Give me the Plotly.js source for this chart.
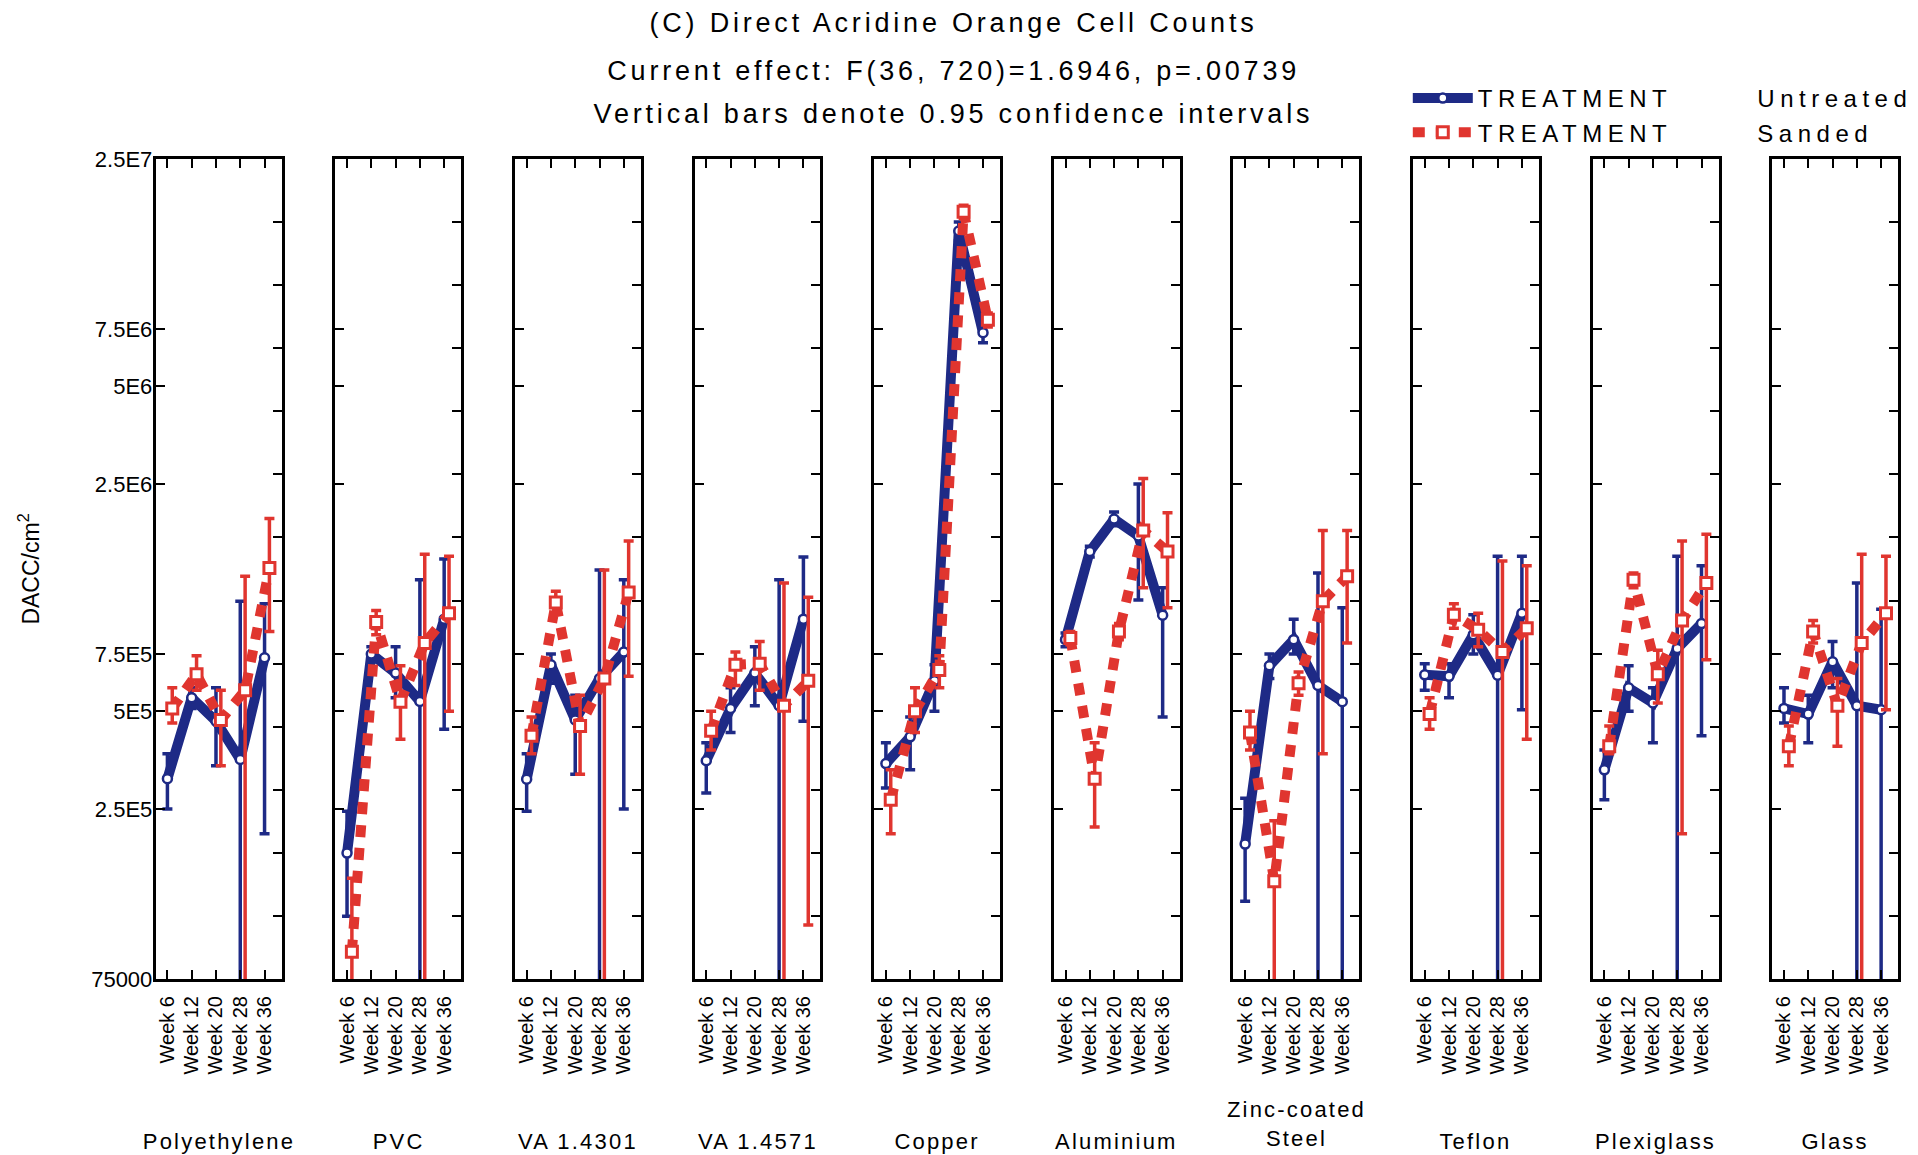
<!DOCTYPE html>
<html>
<head>
<meta charset="utf-8">
<script src="https://cdn.plot.ly/plotly-3.0.1.min.js"></script>
<style>
html, body { margin: 0; padding: 0; background: #ffffff; }
#chart { width: 1918px; height: 1155px; }
.annotation text { letter-spacing: 2.2px; }
.gtitle, .annotation[data-index="0"] text, .annotation[data-index="1"] text { letter-spacing: 3.8px; }
.legendtext { letter-spacing: 5.5px; }
</style>
</head>
<body>
<div id="chart"></div>
<script>
// ---------- DATA ----------
const materials = ['Polyethylene', 'PVC', 'VA 1.4301', 'VA 1.4571', 'Copper', 'Aluminium',
                   'Zinc-coated<br>Steel', 'Teflon', 'Plexiglass', 'Glass'];
const weeks = ['Week 6', 'Week 12', 'Week 20', 'Week 28', 'Week 36'];
const treatments = ['Untreated', 'Sanded'];
const yTickValues = [75000, 250000, 500000, 750000, 2500000, 5000000, 7500000, 25000000];
const yTickLabels = ['75000', '2.5E5', '5E5', '7.5E5', '2.5E6', '5E6', '7.5E6', '2.5E7'];

// TREATMENT: Untreated — means and 0.95 confidence limits (0 = limit below the axis)
const untreatedMean = [
  [3.1e5, 5.5e5, 4.66e5, 3.55e5, 7.3e5],
  [1.83e5, 7.5e5, 6.55e5, 5.36e5, 9.6e5],
  [3.09e5, 6.95e5, 4.7e5, 6.3e5, 7.6e5],
  [3.52e5, 5.1e5, 6.55e5, 5.2e5, 9.6e5],
  [3.45e5, 4.17e5, 6.2e5, 1.5e7, 7.3e6],
  [8.3e5, 1.55e6, 1.95e6, 1.73e6, 9.87e5],
  [1.95e5, 6.9e5, 8.3e5, 6.0e5, 5.35e5],
  [6.47e5, 6.4e5, 8.6e5, 6.45e5, 1.0e6],
  [3.3e5, 5.9e5, 5.3e5, 7.8e5, 9.3e5],
  [5.1e5, 4.9e5, 7.1e5, 5.2e5, 5.05e5]
];
const untreatedUpper = [
  [3.7e5, 5.9e5, 5.9e5, 1.09e6, 1.07e6],
  [2.46e5, 7.9e5, 7.9e5, 1.27e6, 1.47e6],
  [3.7e5, 7.5e5, 5.6e5, 1.36e6, 1.27e6],
  [4.0e5, 5.9e5, 7.9e5, 1.27e6, 1.49e6],
  [4.0e5, 4.8e5, 6.95e5, 1.6e7, 7.8e6],
  [8.7e5, 1.61e6, 2.05e6, 2.5e6, 1.2e6],
  [2.7e5, 7.5e5, 9.6e5, 1.33e6, 1.04e6],
  [7.0e5, 7.0e5, 9.9e5, 1.5e6, 1.5e6],
  [3.8e5, 6.9e5, 5.9e5, 1.5e6, 1.4e6],
  [5.9e5, 5.6e5, 8.2e5, 1.24e6, 1.03e6]
];
const untreatedLower = [
  [2.5e5, 5.1e5, 3.4e5, 0, 2.1e5],
  [1.17e5, 7.1e5, 5.5e5, 0, 4.4e5],
  [2.46e5, 6.1e5, 3.2e5, 0, 2.5e5],
  [2.8e5, 4.3e5, 5.2e5, 0, 4.66e5],
  [2.9e5, 3.3e5, 5.0e5, 1.4e7, 6.8e6],
  [7.9e5, 1.49e6, 1.86e6, 1.1e6, 4.8e5],
  [1.3e5, 6.3e5, 7.5e5, 0, 0],
  [5.8e5, 5.5e5, 7.5e5, 0, 5.05e5],
  [2.67e5, 5.0e5, 4.0e5, 0, 4.2e5],
  [4.6e5, 4.0e5, 5.9e5, 0, 0]
];

// TREATMENT: Sanded
const sandedMean = [
  [5.1e5, 6.5e5, 4.7e5, 5.8e5, 1.38e6],
  [9.1e4, 9.4e5, 5.35e5, 8.1e5, 1.0e6],
  [4.2e5, 1.08e6, 4.5e5, 6.3e5, 1.16e6],
  [4.35e5, 6.95e5, 7.0e5, 5.2e5, 6.2e5],
  [2.67e5, 5.0e5, 6.7e5, 1.72e7, 8.0e6],
  [8.4e5, 3.1e5, 8.8e5, 1.8e6, 1.55e6],
  [4.3e5, 1.5e5, 6.1e5, 1.09e6, 1.3e6],
  [4.9e5, 9.9e5, 8.9e5, 7.6e5, 9.0e5],
  [3.9e5, 1.27e6, 6.5e5, 9.5e5, 1.24e6],
  [3.9e5, 8.8e5, 5.2e5, 8.1e5, 1.0e6]
];
const sandedUpper = [
  [5.9e5, 7.4e5, 5.8e5, 1.30e6, 1.96e6],
  [1.53e5, 1.02e6, 6.9e5, 1.52e6, 1.5e6],
  [4.8e5, 1.17e6, 5.6e5, 1.36e6, 1.67e6],
  [5.0e5, 7.6e5, 8.2e5, 1.24e6, 1.12e6],
  [3.3e5, 5.9e5, 7.4e5, 1.8e7, 8.4e6],
  [8.8e5, 4.0e5, 9.3e5, 2.6e6, 2.04e6],
  [5.0e5, 2.3e5, 6.6e5, 1.8e6, 1.8e6],
  [5.5e5, 1.07e6, 1.0e6, 1.45e6, 1.4e6],
  [4.5e5, 1.33e6, 7.7e5, 1.67e6, 1.75e6],
  [4.5e5, 9.5e5, 6.3e5, 1.52e6, 1.5e6]
];
const sandedLower = [
  [4.6e5, 5.8e5, 3.4e5, 0, 8.8e5],
  [0, 8.6e5, 4.1e5, 0, 5.0e5],
  [3.7e5, 1.0e6, 3.2e5, 0, 6.4e5],
  [3.8e5, 6.0e5, 5.8e5, 0, 1.1e5],
  [2.1e5, 4.3e5, 5.9e5, 1.64e7, 7.6e6],
  [8.0e5, 2.2e5, 8.3e5, 1.2e6, 1.04e6],
  [3.8e5, 0, 5.6e5, 3.7e5, 8.1e5],
  [4.4e5, 9.0e5, 7.9e5, 0, 4.1e5],
  [3.7e5, 1.2e6, 5.3e5, 2.1e5, 7.2e5],
  [3.4e5, 8.1e5, 3.9e5, 0, 5.05e5]
];

// ---------- STYLE / LAYOUT ----------
const W = 1918, H = 1155;
const FONT = 'Liberation Sans, Arial, Helvetica, sans-serif';
const BLUE = '#1e2a86';
const RED = '#e0352f';
const panelLeft0 = 156, panelStep = 179.9, panelWidth = 126;
const plotTop = 159, plotBottom = 979;
const sandedShift = 0.2;
const legendGap = '\u00a0'.repeat(7);

const weekIdx = weeks.map((w, i) => i);
const traces = [];
const layout = {
  width: W, height: H,
  margin: {l: 0, r: 0, t: 0, b: 0},
  paper_bgcolor: '#ffffff',
  plot_bgcolor: '#ffffff',
  font: {family: FONT, color: '#000000'},
  showlegend: true,
  title: {
    text: '(C) Direct Acridine Orange Cell Counts',
    x: 955 / W, xanchor: 'center', xref: 'paper',
    y: 1 - 23 / H, yanchor: 'middle', yref: 'container',
    font: {family: FONT, size: 27, color: '#000000'}
  },
  legend: {
    x: 1410 / W, xanchor: 'left', y: 1 - 76 / H, yanchor: 'top',
    font: {family: FONT, size: 24, color: '#000000'},
    bgcolor: 'rgba(0,0,0,0)', borderwidth: 0,
    itemwidth: 60, tracegroupgap: 0, itemclick: false
  },
  annotations: [
    {text: 'Current effect: F(36, 720)=1.6946, p=.00739', xref: 'paper', yref: 'paper',
     x: 955 / W, y: 1 - 71 / H, xanchor: 'center', yanchor: 'middle', showarrow: false,
     font: {family: FONT, size: 27, color: '#000000'}},
    {text: 'Vertical bars denote 0.95 confidence intervals', xref: 'paper', yref: 'paper',
     x: 955 / W, y: 1 - 114 / H, xanchor: 'center', yanchor: 'middle', showarrow: false,
     font: {family: FONT, size: 27, color: '#000000'}}
  ]
};

materials.forEach((mat, k) => {
  const s = k === 0 ? '' : String(k + 1);
  const sOver = String(k + 11);
  const left = panelLeft0 + panelStep * k;
  const right = left + panelWidth;

  const uPlus = untreatedUpper[k].map((u, i) => u - untreatedMean[k][i]);
  const uMinus = untreatedLower[k].map((l, i) => untreatedMean[k][i] - l);
  const sPlus = sandedUpper[k].map((u, i) => u - sandedMean[k][i]);
  const sMinus = sandedLower[k].map((l, i) => sandedMean[k][i] - l);

  traces.push({
    type: 'scatter', mode: 'lines+markers',
    x: weekIdx, y: untreatedMean[k],
    xaxis: 'x' + s, yaxis: 'y' + s,
    name: 'TREATMENT' + legendGap + treatments[0], legendgroup: 'u', showlegend: k === 0,
    line: {color: BLUE, width: 10},
    marker: {symbol: 'circle', size: 9, color: '#ffffff', line: {color: BLUE, width: 2.5}},
    error_y: {type: 'data', symmetric: false, array: uPlus, arrayminus: uMinus,
              color: BLUE, thickness: 3.5, width: 5},
    hoverinfo: 'y'
  });
  traces.push({
    type: 'scatter', mode: 'lines+markers',
    x: weekIdx.map(v => v + sandedShift), y: sandedMean[k],
    xaxis: 'x' + s, yaxis: 'y' + s,
    name: 'TREATMENT' + legendGap + treatments[1], legendgroup: 's', showlegend: k === 0,
    line: {color: RED, width: 10, dash: '12px,11px'},
    marker: {symbol: 'square', size: 11, color: '#ffffff', line: {color: RED, width: 3}},
    error_y: {type: 'data', symmetric: false, array: sPlus, arrayminus: sMinus,
              color: RED, thickness: 3.5, width: 5},
    hoverinfo: 'y'
  });
  // empty trace that carries the right-hand tick axis of the panel
  traces.push({
    type: 'scatter', mode: 'markers', x: [], y: [],
    xaxis: 'x' + s, yaxis: 'y' + sOver, showlegend: false, hoverinfo: 'skip'
  });

  layout['xaxis' + s] = {
    domain: [left / W, right / W], anchor: 'y' + s,
    range: [-0.48, 4.7], fixedrange: true,
    tickmode: 'array', tickvals: weekIdx, ticktext: weeks, tickangle: -90,
    ticks: 'inside', ticklen: 9, tickwidth: 2, tickcolor: '#000000',
    ticklabelstandoff: 6,
    tickfont: {family: FONT, size: 20, color: '#000000'},
    showline: true, linecolor: '#000000', linewidth: 3, mirror: 'ticks',
    showgrid: false, zeroline: false
  };
  layout['yaxis' + s] = {
    domain: [1 - plotBottom / H, 1 - plotTop / H], anchor: 'x' + s,
    type: 'log', range: [Math.log10(75000), Math.log10(25000000)], fixedrange: true,
    tickmode: 'array', tickvals: yTickValues, ticktext: yTickLabels,
    showticklabels: k === 0, ticklabelstandoff: -4,
    ticks: 'inside', ticklen: 9, tickwidth: 2, tickcolor: '#000000',
    tickfont: {family: FONT, size: 22, color: '#000000'},
    showline: true, linecolor: '#000000', linewidth: 3, mirror: true,
    showgrid: false, zeroline: false
  };
  if (k === 0) {
    layout['yaxis' + s].title = {text: 'DACC/cm<sup>2</sup>', standoff: 46,
                                 font: {family: FONT, size: 23, color: '#000000'}};
  }
  layout['yaxis' + sOver] = {
    overlaying: 'y' + s, anchor: 'x' + s, side: 'right',
    range: [0, 13], fixedrange: true,
    tickmode: 'array', tickvals: [1, 2, 3, 4, 5, 6, 7, 8, 9, 10, 11, 12],
    ticks: 'inside', ticklen: 9, tickwidth: 2, tickcolor: '#000000',
    showticklabels: false, showline: false, showgrid: false, zeroline: false
  };
  layout.annotations.push({
    text: mat, xref: 'paper', yref: 'paper',
    x: (left + right) / 2 / W, y: 1 - (k === 6 ? 1124 : 1141) / H,
    xanchor: 'center', yanchor: 'middle', showarrow: false,
    font: {family: FONT, size: 22, color: '#000000'}
  });
});

Plotly.newPlot('chart', traces, layout, {displayModeBar: false, staticPlot: true});
</script>
</body>
</html>
